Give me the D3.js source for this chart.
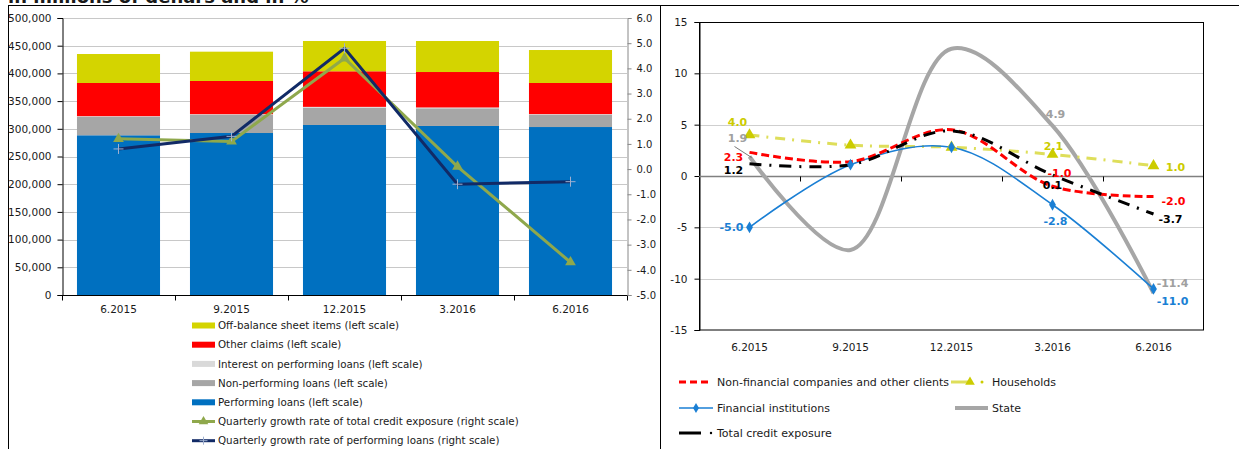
<!DOCTYPE html>
<html>
<head>
<meta charset="utf-8">
<script src="https://cdn.jsdelivr.net/npm/d3@7"></script>
<style>
  body { margin: 0; background: #fff; }
  text { font-family: "DejaVu Sans", Verdana, sans-serif; fill: #1a1a1a; }
</style>
</head>
<body>
<svg id="chart" width="1239" height="449"></svg>
<script>
// ---- data ----
const quarters = ["6.2015", "9.2015", "12.2015", "3.2016", "6.2016"];

// left chart, stacked bars (millions of denars)
const performingLoans = [288300, 292400, 306900, 305100, 303200];
const nonPerformingLoans = [33000, 32500, 31200, 31900, 21800];
const interestPerforming = [1500, 1500, 1500, 1500, 1500];
const otherClaims = [59900, 59900, 64200, 64000, 56200];
const offBalanceItems = [52300, 52900, 54700, 56000, 59500];

// left chart, lines (%)
const growthTotalExposure = [1.2, 1.1, 4.4, 0.1, -3.7];
const growthPerformingLoans = [0.8, 1.3, 4.8, -0.6, -0.5];

const leftTicks = [0, 50000, 100000, 150000, 200000, 250000, 300000, 350000, 400000, 450000, 500000];
const rightTicks = [-5, -4, -3, -2, -1, 0, 1, 2, 3, 4, 5, 6];

// right chart, by sector (%)
const nonFinancial = [2.3, 1.4, 4.5, -1.0, -2.0];
const households = [4.0, 3.0, 2.8, 2.1, 1.0];
const financialInst = [-5.0, 1.1, 2.8, -2.8, -11.0];
const state = [1.9, -7.2, 12.4, 4.9, -11.4];
const totalExposure = [1.2, 1.1, 4.4, 0.1, -3.7];
const sectorTicks = [-15, -10, -5, 0, 5, 10, 15];

// plain hyphen for negatives, like the original
const fmt1 = v => d3.format(".1f")(v).replace("\u2212", "-");
const fmt0 = v => d3.format("d")(v).replace("\u2212", "-");

const svg = d3.select("#chart");

// ---- frame ----
svg.append("text").attr("x", 8).attr("y", 3)
  .style("font-size", "18px").style("font-weight", "bold").text("in millions of denars and in %");
svg.append("line").attr("x1", 8).attr("x2", 1239).attr("y1", 5.5).attr("y2", 5.5).attr("stroke", "#000");
svg.append("line").attr("x1", 8.5).attr("x2", 8.5).attr("y1", 5).attr("y2", 449).attr("stroke", "#000");
svg.append("line").attr("x1", 660.5).attr("x2", 660.5).attr("y1", 5).attr("y2", 449).attr("stroke", "#000");

// ================= left chart =================
const xBand = d3.scaleBand().domain(quarters).range([62, 627]).paddingInner(0.265).paddingOuter(0.1325);
const yLeft = d3.scaleLinear().domain([0, 500000]).range([295, 18]);
const yRight = d3.scaleLinear().domain([-5, 6]).range([295, 18]);

const left = svg.append("g");

// gridlines
left.append("g").selectAll("line").data(leftTicks.slice(1)).join("line")
  .attr("x1", 62).attr("x2", 627)
  .attr("y1", d => Math.round(yLeft(d)) + 0.5).attr("y2", d => Math.round(yLeft(d)) + 0.5)
  .attr("stroke", "#c8c8c8");

const stackKeys = ["perf", "npl", "interest", "other", "offb"];
const stackColors = { perf: "#0070c0", npl: "#a6a6a6", interest: "#d9d9d9", other: "#ff0000", offb: "#d4d400" };
const barRows = quarters.map((q, i) => ({
  q, perf: performingLoans[i], npl: nonPerformingLoans[i], interest: interestPerforming[i],
  other: otherClaims[i], offb: offBalanceItems[i]
}));
const stacked = d3.stack().keys(stackKeys)(barRows);

left.append("g").selectAll("g").data(stacked).join("g")
  .attr("fill", d => stackColors[d.key])
  .selectAll("rect").data(d => d).join("rect")
  .attr("x", d => xBand(d.data.q))
  .attr("width", xBand.bandwidth())
  .attr("y", d => yLeft(d[1]))
  .attr("height", d => yLeft(d[0]) - yLeft(d[1]));

// left axis
const axL = left.append("g").attr("transform", "translate(62.5,0)")
  .call(d3.axisLeft(yLeft).tickValues(leftTicks).tickSize(5).tickPadding(6).tickFormat(d3.format(",")));
axL.select(".domain").attr("stroke", "#000");
axL.selectAll(".tick line").attr("stroke", "#000");
axL.selectAll("text").style("font-size", "10.5px").attr("fill", "#1a1a1a");

// right axis
const axR = left.append("g").attr("transform", "translate(627.5,0)")
  .call(d3.axisRight(yRight).tickValues(rightTicks).tickSize(4).tickPadding(5).tickFormat(fmt1));
axR.select(".domain").attr("stroke", "#888");
axR.selectAll(".tick line").attr("stroke", "#888");
axR.selectAll("text").style("font-size", "10px").attr("fill", "#1a1a1a");

// bottom axis
const bottomL = left.append("g").attr("transform", "translate(0,295.5)");
bottomL.append("line").attr("x1", 62).attr("x2", 627).attr("stroke", "#000");
bottomL.selectAll(".tk").data(d3.range(quarters.length + 1)).join("line").attr("class", "tk")
  .attr("x1", i => Math.round(62 + i * xBand.step()) + 0.5).attr("x2", i => Math.round(62 + i * xBand.step()) + 0.5)
  .attr("y1", 0).attr("y2", 5).attr("stroke", "#000");
bottomL.selectAll("text").data(quarters).join("text")
  .attr("x", d => xBand(d) + xBand.bandwidth() / 2).attr("y", 17)
  .attr("text-anchor", "middle").style("font-size", "10.5px").text(d => d);

// lines on right scale
const lineR = d3.line().x((d, i) => xBand(quarters[i]) + xBand.bandwidth() / 2).y(d => yRight(d));
left.append("path").datum(growthTotalExposure).attr("d", lineR)
  .attr("fill", "none").attr("stroke", "#8fa84c").attr("stroke-width", 3);
left.append("g").selectAll("path").data(growthTotalExposure).join("path")
  .attr("transform", (d, i) => `translate(${xBand(quarters[i]) + xBand.bandwidth() / 2},${yRight(d)})`)
  .attr("d", d3.symbol(d3.symbolTriangle, 50)).attr("fill", "#8fa84c");

left.append("path").datum(growthPerformingLoans).attr("d", lineR)
  .attr("fill", "none").attr("stroke", "#112a66").attr("stroke-width", 3);
left.append("g").selectAll("path").data(growthPerformingLoans).join("path")
  .attr("transform", (d, i) => `translate(${xBand(quarters[i]) + xBand.bandwidth() / 2},${yRight(d)})`)
  .attr("d", "M-5,0H5M0,-5V5").attr("stroke", "#9fb0d0").attr("stroke-width", 1);

// left legend
const leftLegend = [
  { label: "Off-balance sheet items (left scale)", type: "rect", color: "#d4d400" },
  { label: "Other claims (left scale)", type: "rect", color: "#ff0000" },
  { label: "Interest on performing loans (left scale)", type: "rect", color: "#d9d9d9" },
  { label: "Non-performing loans (left scale)", type: "rect", color: "#a6a6a6" },
  { label: "Performing loans (left scale)", type: "rect", color: "#0070c0" },
  { label: "Quarterly growth rate of total credit exposure (right scale)", type: "tri", color: "#8fa84c" },
  { label: "Quarterly growth rate of performing loans (right scale)", type: "plus", color: "#112a66" }
];
const lg = left.append("g").selectAll("g").data(leftLegend).join("g")
  .attr("transform", (d, i) => `translate(192,${325.5 + i * 19.2})`);
lg.filter(d => d.type === "rect").append("rect")
  .attr("x", 0).attr("y", -3).attr("width", 23).attr("height", 6).attr("fill", d => d.color);
lg.filter(d => d.type !== "rect").append("line")
  .attr("x1", 0).attr("x2", 23).attr("stroke", d => d.color).attr("stroke-width", 3);
lg.filter(d => d.type === "tri").append("path")
  .attr("transform", "translate(11.5,0)").attr("d", d3.symbol(d3.symbolTriangle, 40)).attr("fill", d => d.color);
lg.filter(d => d.type === "plus").append("path")
  .attr("transform", "translate(11.5,0)").attr("d", "M-4,0H4M0,-4V4").attr("stroke", "#9fb0d0");
lg.append("text").attr("x", 26).attr("dy", "0.35em").style("font-size", "10.3px").text(d => d.label);

// ================= right chart =================
const xPt = d3.scalePoint().domain(quarters).range([699, 1204]).padding(0.5);
const ySec = d3.scaleLinear().domain([-15, 15]).range([330, 22]);
const right = svg.append("g");

right.append("g").selectAll("line").data([-10, -5, 5, 10]).join("line")
  .attr("x1", 699).attr("x2", 1203)
  .attr("y1", d => Math.round(ySec(d)) + 0.5).attr("y2", d => Math.round(ySec(d)) + 0.5)
  .attr("stroke", "#cfcfcf");
right.append("rect").attr("x", 699.5).attr("y", 22.5).attr("width", 504).attr("height", 307.5)
  .attr("fill", "none").attr("stroke", "#000");

const axS = right.append("g").attr("transform", "translate(699.5,0)")
  .call(d3.axisLeft(ySec).tickValues(sectorTicks).tickSize(5).tickPadding(7).tickFormat(fmt0));
axS.select(".domain").attr("stroke", "#000");
axS.selectAll(".tick line").attr("stroke", "#000");
axS.selectAll("text").style("font-size", "10.5px").attr("fill", "#1a1a1a");

// zero axis with ticks
const zeroY = Math.round(ySec(0)) + 0.5;
right.append("line").attr("x1", 699).attr("x2", 1203).attr("y1", zeroY).attr("y2", zeroY)
  .attr("stroke", "#808080").attr("stroke-width", 1.5);
right.append("g").selectAll("line").data(d3.range(1, quarters.length)).join("line")
  .attr("x1", i => Math.round(699 + i * xPt.step()) + 0.5).attr("x2", i => Math.round(699 + i * xPt.step()) + 0.5)
  .attr("y1", zeroY).attr("y2", zeroY + 5).attr("stroke", "#000");
right.append("g").selectAll("text").data(quarters).join("text")
  .attr("x", d => xPt(d)).attr("y", 351).attr("text-anchor", "middle")
  .style("font-size", "10.5px").text(d => d);

const smooth = d3.line().curve(d3.curveCatmullRom.alpha(0.5))
  .x((d, i) => xPt(quarters[i])).y(d => ySec(d));

const series = [
  { key: "state", values: state, color: "#a6a6a6", width: 4, dash: null, label: "#a0a0a0",
    shown: [[0, -12, -18], [3, 3, -12], [4, 19, -10]] },
  { key: "households", values: households, color: "#dede5a", width: 3, dash: "10,7,2,7", label: "#cccc00",
    shown: [[0, -12, -13], [3, 1, -8], [4, 22, 1]] },
  { key: "financial", values: financialInst, color: "#1a7fd4", width: 1.6, dash: null, label: "#1a7fd4",
    shown: [[0, -18, 0], [3, 3, 16], [4, 19, 12]] },
  { key: "nonfin", values: nonFinancial, color: "#ff0000", width: 3, dash: "8,4", label: "#ff0000",
    shown: [[0, -16, 5], [3, 7, -13], [4, 20, 5]] },
  { key: "total", values: totalExposure, color: "#000", width: 3, dash: "12,8,2,8", label: "#000",
    shown: [[0, -16, 6], [3, 0, 10], [4, 17, 5]] }
];

right.append("g").selectAll("path").data(series).join("path")
  .attr("d", d => smooth(d.values)).attr("fill", "none")
  .attr("stroke", d => d.color).attr("stroke-width", d => d.width)
  .attr("stroke-dasharray", d => d.dash);

// markers
right.append("g").selectAll("path").data(households).join("path")
  .attr("transform", (d, i) => `translate(${xPt(quarters[i])},${ySec(d)})`)
  .attr("d", d3.symbol(d3.symbolTriangle, 60)).attr("fill", "#cccc00");
right.append("g").selectAll("path").data(financialInst).join("path")
  .attr("transform", (d, i) => `translate(${xPt(quarters[i])},${ySec(d)})`)
  .attr("d", d3.symbol(d3.symbolDiamond, 40)).attr("fill", "#1a7fd4");

// leader line for state label
right.append("line")
  .attr("x1", xPt(quarters[0]) - 15).attr("y1", ySec(state[0]) - 10)
  .attr("x2", xPt(quarters[0]) + 2).attr("y2", ySec(state[0]) + 1)
  .attr("stroke", "#555").attr("stroke-width", 0.8);

// data labels
series.forEach(s => {
  right.append("g").selectAll("text").data(s.shown).join("text")
    .attr("x", d => xPt(quarters[d[0]]) + d[1])
    .attr("y", d => ySec(s.values[d[0]]) + d[2])
    .attr("text-anchor", "middle").attr("dy", "0.35em")
    .style("font-size", "11px").style("font-weight", "bold")
    .style("fill", s.label)
    .text(d => fmt1(s.values[d[0]]));
});

// right legend
const rightLegend = [
  { key: "nonfin", label: "Non-financial companies and other clients", x: 679, y: 382 },
  { key: "households", label: "Households", x: 951, y: 382 },
  { key: "financial", label: "Financial institutions", x: 679, y: 408 },
  { key: "state", label: "State", x: 955, y: 408 },
  { key: "total", label: "Total credit exposure", x: 679, y: 433 }
];
const legendFont = "11px";
const rl = right.append("g").selectAll("g").data(rightLegend).join("g")
  .attr("transform", d => `translate(${d.x},${d.y})`);
rl.each(function (d) {
  const g = d3.select(this);
  if (d.key === "nonfin") {
    g.append("line").attr("x1", 0).attr("x2", 31).attr("stroke", "#ff0000").attr("stroke-width", 3).attr("stroke-dasharray", "7,4");
    g.append("text").attr("x", 38).attr("dy", "0.35em").style("font-size", legendFont).text(d.label);
  } else if (d.key === "households") {
    g.append("line").attr("x1", 0).attr("x2", 18).attr("stroke", "#dede5a").attr("stroke-width", 3);
    g.append("path").attr("transform", "translate(19,0)").attr("d", d3.symbol(d3.symbolTriangle, 40)).attr("fill", "#cccc00");
    g.append("circle").attr("cx", 31).attr("r", 1.5).attr("fill", "#cccc00");
    g.append("text").attr("x", 41).attr("dy", "0.35em").style("font-size", legendFont).text(d.label);
  } else if (d.key === "financial") {
    g.append("line").attr("x1", 0).attr("x2", 34).attr("stroke", "#1a7fd4").attr("stroke-width", 1.6);
    g.append("path").attr("transform", "translate(17,0)").attr("d", d3.symbol(d3.symbolDiamond, 30)).attr("fill", "#1a7fd4");
    g.append("text").attr("x", 38).attr("dy", "0.35em").style("font-size", legendFont).text(d.label);
  } else if (d.key === "state") {
    g.append("line").attr("x1", 0).attr("x2", 33).attr("stroke", "#a6a6a6").attr("stroke-width", 4);
    g.append("text").attr("x", 37).attr("dy", "0.35em").style("font-size", legendFont).text(d.label);
  } else {
    g.append("line").attr("x1", 0).attr("x2", 22).attr("stroke", "#000").attr("stroke-width", 3);
    g.append("circle").attr("cx", 32).attr("r", 1.2).attr("fill", "#000");
    g.append("text").attr("x", 38).attr("dy", "0.35em").style("font-size", legendFont).text(d.label);
  }
});
</script>
</body>
</html>
